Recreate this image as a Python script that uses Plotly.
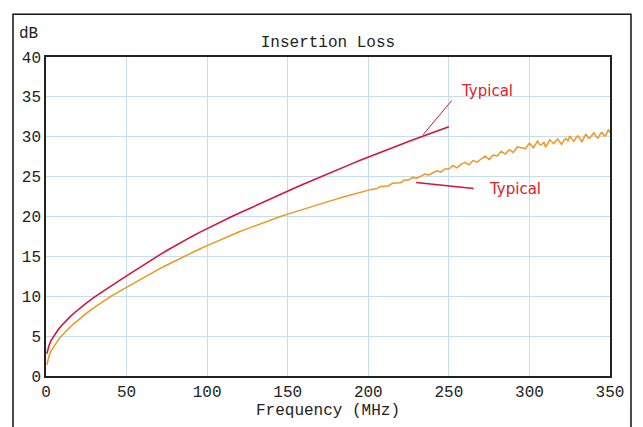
import plotly.graph_objects as go

# red curve (typical, up to 250 MHz)
red_f = [0.5, 1, 2, 3, 5, 7.5, 10, 12.5, 15, 17.5, 20, 25, 30, 35, 40, 45, 50,
         55, 60, 65, 70, 75, 80, 85, 90, 95, 100, 105, 110, 115, 120, 125, 130,
         135, 140, 145, 150, 155, 160, 165, 170, 175, 180, 185, 190, 195, 200,
         205, 210, 215, 220, 225, 230, 235, 240, 245, 250]
red_db = [2.8, 3.2, 3.9, 4.4, 5.1, 5.8, 6.4, 6.95, 7.45, 7.9, 8.35, 9.15, 9.9,
          10.6, 11.25, 11.9, 12.55, 13.22, 13.87, 14.51, 15.13, 15.73, 16.32,
          16.89, 17.44, 17.98, 18.5, 18.99, 19.47, 19.96, 20.43, 20.9, 21.37,
          21.84, 22.29, 22.75, 23.2, 23.64, 24.08, 24.52, 24.95, 25.38, 25.8,
          26.22, 26.63, 27.04, 27.45, 27.85, 28.24, 28.63, 29.02, 29.4, 29.78,
          30.15, 30.52, 30.89, 31.25]

# orange curve (measured, up to 350 MHz)
orange_f = [0.5, 1, 2, 3, 5, 7.5, 10, 12.5, 15, 17.5, 20, 25, 30, 35, 40, 45, 48,
            50, 52, 55, 60, 65, 70, 75, 80, 85, 90, 95, 100, 105, 110, 115, 120,
            125, 130, 135, 140, 145, 150, 155, 160, 165, 170, 175, 180, 185, 190,
            195, 200, 202.5, 205, 207.5, 210, 212.5, 215, 217.5, 220, 222.5, 225,
            227.5, 230, 232.5, 235, 237.5, 240, 242.5, 245, 247.5, 250, 252.5,
            255, 257.5, 260, 262.5, 265, 267.5, 270, 272.5, 275, 277.5, 280,
            282.5, 285, 287.5, 290, 292.5, 295, 297.5, 300, 301.5, 302.5, 304,
            305, 306.5, 307.5, 309, 310, 311.5, 312.5, 314, 315, 316.5, 317.5,
            319, 320, 321.5, 322.5, 324, 325, 326.5, 327.5, 329, 330, 331.5,
            332.5, 334, 335, 336.5, 337.5, 339, 340, 341.5, 342.5, 344, 345,
            346.5, 347.5, 349, 350]
orange_db = [1.4, 1.9, 2.6, 3.1, 3.8, 4.5, 5.1, 5.65, 6.15, 6.6, 7.05, 7.85, 8.6,
             9.3, 9.95, 10.55, 10.9, 11.1, 11.4, 11.75, 12.31, 12.86, 13.39,
             13.92, 14.43, 14.93, 15.41, 15.89, 16.35, 16.8, 17.24, 17.66, 18.08,
             18.48, 18.87, 19.25, 19.61, 19.96, 20.3, 20.63, 20.95, 21.27, 21.58,
             21.88, 22.18, 22.47, 22.75, 23.03, 23.3, 23.43, 23.47, 23.75, 23.79,
             23.83, 24.17, 24.25, 24.24, 24.58, 24.57, 24.9, 24.79, 25.03, 25.32,
             25.2, 25.49, 25.73, 25.57, 25.96, 25.95, 26.4, 26.09, 26.54, 26.78,
             26.48, 27.02, 26.82, 27.21, 27.56, 27.15, 27.7, 27.59, 28.19, 27.83,
             28.38, 28.02, 28.72, 28.61, 28.51, 29.2, 28.8, 28.63, 29.1, 29.45,
             29.0, 29.03, 29.3, 28.7, 29.2, 29.63, 29.35, 29.15, 29.5, 29.73,
             29.3, 29.05, 29.6, 29.78, 29.5, 30.1, 29.7, 29.43, 29.9, 30.1, 29.75,
             29.33, 29.95, 30.3, 29.9, 29.83, 30.25, 30.5, 30.0, 29.83, 30.35,
             30.55, 30.1, 30.23, 30.9, 30.5]

x_ticks = [0, 50, 100, 150, 200, 250, 300, 350]
y_ticks = [0, 5, 10, 15, 20, 25, 30, 35, 40]

font_mono = 'Liberation Mono'
grid_col = '#c6dcef'
red_col = '#d3153b'
orange_col = '#f0961e'
label_col = '#e0202a'
txt = dict(family=font_mono, size=16, color='#222')

fig = go.Figure()
fig.add_trace(go.Scatter(x=orange_f, y=orange_db, mode='lines',
                         line=dict(color=orange_col, width=1.5), showlegend=False))
fig.add_trace(go.Scatter(x=red_f, y=red_db, mode='lines',
                         line=dict(color=red_col, width=1.6), showlegend=False))

ann = [
    dict(text='dB', xref='paper', yref='paper', x=-0.012, y=1.04,
         xanchor='right', yanchor='bottom', showarrow=False, font=txt, borderpad=0),
    # upper "Typical" pointer
    dict(x=234, y=30.25, ax=252.6, ay=34.75, axref='x', ayref='y', xref='x', yref='y',
         text='', showarrow=True, arrowhead=0, arrowwidth=1, arrowcolor=red_col),
    dict(text='Typical', x=256.5, y=35.75, xref='x', yref='y', xanchor='left',
         yanchor='middle', showarrow=False,
         font=dict(family='DejaVu Sans', size=15, color=label_col)),
    # lower "Typical" pointer
    dict(x=229.7, y=24.25, ax=266.3, ay=23.5, axref='x', ayref='y', xref='x', yref='y',
         text='', showarrow=True, arrowhead=0, arrowwidth=1.5, arrowcolor=red_col),
    dict(text='Typical', x=273.5, y=23.5, xref='x', yref='y', xanchor='left',
         yanchor='middle', showarrow=False,
         font=dict(family='DejaVu Sans', size=15, color=label_col)),
]

fig.update_layout(
    width=643, height=427,
    margin=dict(l=46, r=33, t=57, b=51),
    paper_bgcolor='white', plot_bgcolor='white',
    title=dict(text='Insertion Loss', x=0.51, xanchor='center', y=0.902,
               yanchor='middle', font=txt),
    annotations=ann,
    shapes=[dict(type='rect', xref='paper', yref='paper', x0=-0.0585, x1=1.0372,
                 y0=-0.3, y1=1.134, line=dict(color='#111', width=1.5), layer='below')],
    xaxis=dict(range=[0, 350], tickvals=x_ticks, showgrid=True, gridcolor=grid_col,
               gridwidth=1, zeroline=False, showline=True, linecolor='#222',
               linewidth=1.5, mirror=True, ticks='', tickfont=txt,
               title=dict(text='Frequency (MHz)', standoff=0, font=txt)),
    yaxis=dict(range=[0, 40], tickvals=y_ticks, showgrid=True, gridcolor=grid_col,
               gridwidth=1, zeroline=False, showline=True, linecolor='#222',
               linewidth=1.5, mirror=True, ticks='', tickfont=txt),
)

fig.write_html('out.html', config={'displayModeBar': False},
               post_script="document.body.style.margin='0';")
